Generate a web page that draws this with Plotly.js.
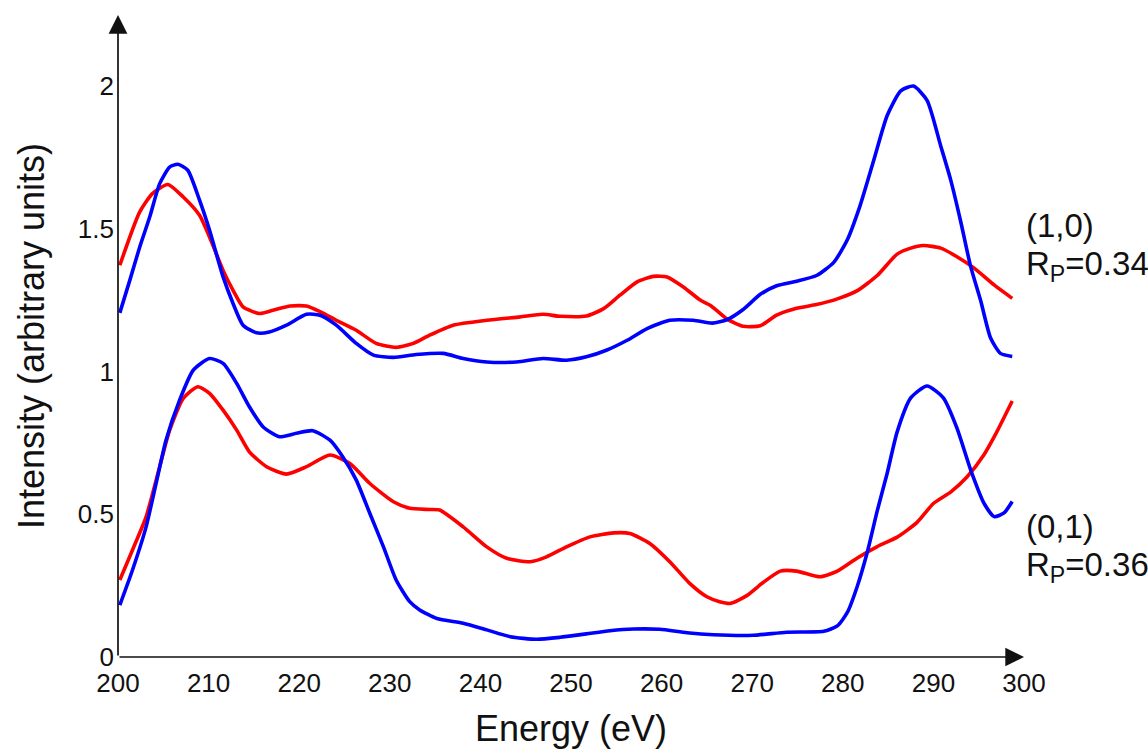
<!DOCTYPE html>
<html>
<head>
<meta charset="utf-8">
<script src="https://cdn.plot.ly/plotly-3.0.1.min.js"></script>
<style>html,body{margin:0;padding:0;background:#fff;}#chart{width:1148px;height:755px;}</style>
</head>
<body>
<div id="chart"></div>
<script>
// (1,0) simulated (red) and experimental (blue)
const energyRed10 = [200.2,202.4,203.8,205.5,207.2,209.0,210.1,211.6,212.7,213.8,215.6,217.1,219.0,220.8,222.3,224.1,226.3,228.5,230.7,232.6,234.4,237.0,240.7,244.4,246.9,248.8,251.7,253.6,255.4,257.3,259.1,260.6,262.4,264.3,265.4,267.2,269.0,270.9,272.7,274.9,277.1,279.4,281.6,283.8,286.0,287.5,288.9,290.8,292.6,294.5,296.7,298.7];
const red10 = [1.373,1.560,1.624,1.656,1.612,1.548,1.472,1.355,1.285,1.227,1.204,1.215,1.230,1.230,1.210,1.180,1.145,1.099,1.085,1.099,1.128,1.163,1.180,1.192,1.201,1.194,1.195,1.221,1.268,1.315,1.334,1.332,1.297,1.250,1.232,1.185,1.159,1.161,1.198,1.222,1.235,1.255,1.284,1.337,1.412,1.433,1.442,1.433,1.403,1.363,1.304,1.257];

const energyBlue10 = [200.2,201.3,202.4,203.5,204.6,205.7,206.6,207.7,209.0,210.1,211.6,212.7,213.8,215.3,216.7,218.6,220.8,222.3,224.1,226.3,228.2,230.4,232.9,235.9,238.1,240.7,244.0,246.9,249.5,251.7,253.9,256.2,258.4,260.9,263.5,265.6,267.2,269.0,270.9,272.7,274.9,277.1,279.0,280.5,281.9,283.4,284.9,286.4,287.8,289.3,290.8,291.9,293.0,294.1,295.2,296.3,297.4,298.7];
const blue10 = [1.206,1.320,1.437,1.542,1.659,1.717,1.727,1.706,1.601,1.496,1.332,1.239,1.163,1.136,1.139,1.163,1.201,1.198,1.163,1.099,1.058,1.050,1.060,1.064,1.046,1.034,1.034,1.046,1.040,1.052,1.075,1.110,1.151,1.180,1.180,1.170,1.182,1.218,1.271,1.301,1.317,1.337,1.383,1.462,1.581,1.739,1.898,1.984,2.001,1.951,1.792,1.673,1.528,1.370,1.251,1.119,1.064,1.053];

// (0,1) simulated (red) and experimental (blue)
const energyRed01 = [200.2,201.6,203.1,204.6,205.7,207.2,208.8,210.1,211.6,213.1,214.5,216.4,218.6,220.8,223.4,225.6,227.8,230.4,232.2,234.4,235.5,238.1,240.7,242.9,245.5,247.3,249.5,252.1,254.7,256.5,258.7,260.9,263.1,265.0,266.4,267.6,269.4,271.2,273.1,274.9,277.5,279.4,281.6,283.8,286.0,288.2,290.0,291.9,293.7,295.6,297.0,298.7];
const red01 = [0.270,0.375,0.491,0.667,0.795,0.906,0.947,0.924,0.865,0.795,0.719,0.667,0.641,0.667,0.708,0.678,0.608,0.544,0.521,0.517,0.515,0.456,0.386,0.346,0.334,0.351,0.386,0.421,0.435,0.433,0.398,0.334,0.258,0.211,0.194,0.188,0.215,0.261,0.301,0.301,0.281,0.301,0.347,0.387,0.420,0.472,0.538,0.578,0.631,0.710,0.789,0.897];

const energyBlue01 = [200.2,201.6,203.1,204.2,205.3,206.8,208.3,210.1,211.6,213.1,214.5,216.0,217.8,219.7,221.5,223.4,224.8,226.3,227.8,229.3,230.7,232.2,233.3,235.2,238.1,240.7,243.3,246.2,248.8,251.7,254.3,256.9,259.8,262.8,265.7,270.1,273.8,277.9,279.4,280.5,281.6,282.7,283.8,284.9,286.0,287.5,289.3,291.1,292.6,294.1,295.6,296.7,297.8,298.7];
const blue01 = [0.182,0.305,0.456,0.608,0.760,0.900,1.005,1.046,1.029,0.959,0.877,0.807,0.772,0.784,0.793,0.760,0.702,0.620,0.503,0.386,0.270,0.194,0.165,0.135,0.118,0.095,0.071,0.062,0.069,0.081,0.092,0.098,0.097,0.085,0.078,0.076,0.087,0.090,0.109,0.156,0.248,0.367,0.512,0.644,0.789,0.908,0.950,0.908,0.802,0.657,0.538,0.492,0.505,0.545];

const xTicks = [200,210,220,230,240,250,260,270,280,290,300];
const yTicks = [0,0.5,1,1.5,2];
const yTickText = ['0','0.5','1','1.5','2'];

const FONT = 'Arial, "Liberation Sans", sans-serif';
const RED = '#ff0000';
const BLUE = '#0000ff';

function line(x, y, color, name) {
  return {x: x, y: y, type: 'scatter', mode: 'lines', name: name,
    line: {color: color, width: 3.6, shape: 'spline', smoothing: 0.6},
    hoverinfo: 'x+y'};
}

const traces = [
  line(energyRed10, red10, RED, '(1,0) red'),
  line(energyBlue10, blue10, BLUE, '(1,0) blue'),
  line(energyRed01, red01, RED, '(0,1) red'),
  line(energyBlue01, blue01, BLUE, '(0,1) blue')
];

const layout = {
  width: 1148, height: 755,
  margin: {l: 118, r: 124, t: 15, b: 98},
  paper_bgcolor: '#ffffff', plot_bgcolor: '#ffffff',
  showlegend: false,
  font: {family: FONT, color: '#111111'},
  xaxis: {
    range: [200, 300], showgrid: false, zeroline: false, showline: false,
    tickvals: xTicks, ticktext: xTicks.map(String), ticks: '',
    ticklabelstandoff: 8,
    tickfont: {size: 26, family: FONT, color: '#111111'},
    title: {text: 'Energy (eV)', font: {size: 36, family: FONT, color: '#111111'}, standoff: 18}
  },
  yaxis: {
    range: [0, 2.25], showgrid: false, zeroline: false, showline: false,
    tickvals: yTicks, ticktext: yTickText, ticks: '',
    ticklabelstandoff: 3,
    tickfont: {size: 26, family: FONT, color: '#111111'},
    title: {text: 'Intensity (arbitrary units)', font: {size: 36, family: FONT, color: '#111111'}, standoff: 22}
  },
  annotations: [
    {x: 200, y: 2.25, ax: 200, ay: 0, xref: 'x', yref: 'y', axref: 'x', ayref: 'y',
     text: '', showarrow: true, arrowhead: 2, arrowsize: 2.2, arrowwidth: 1.7, arrowcolor: '#111111'},
    {x: 300, y: 0, ax: 200, ay: 0, xref: 'x', yref: 'y', axref: 'x', ayref: 'y',
     text: '', showarrow: true, arrowhead: 2, arrowsize: 2.2, arrowwidth: 1.7, arrowcolor: '#111111'},
    {x: 1.0, y: 1.513, xref: 'paper', yref: 'y', xanchor: 'left', yanchor: 'middle',
     text: '(1,0)', showarrow: false, font: {size: 33, family: FONT, color: '#111111'}},
    {x: 1.0, y: 1.371, xref: 'paper', yref: 'y', xanchor: 'left', yanchor: 'middle',
     text: 'R<sub>P</sub>=0.34', showarrow: false, font: {size: 33, family: FONT, color: '#111111'}},
    {x: 1.0, y: 0.458, xref: 'paper', yref: 'y', xanchor: 'left', yanchor: 'middle',
     text: '(0,1)', showarrow: false, font: {size: 33, family: FONT, color: '#111111'}},
    {x: 1.0, y: 0.315, xref: 'paper', yref: 'y', xanchor: 'left', yanchor: 'middle',
     text: 'R<sub>P</sub>=0.36', showarrow: false, font: {size: 33, family: FONT, color: '#111111'}}
  ]
};

Plotly.newPlot('chart', traces, layout, {displayModeBar: false, staticPlot: true});
</script>
</body>
</html>
